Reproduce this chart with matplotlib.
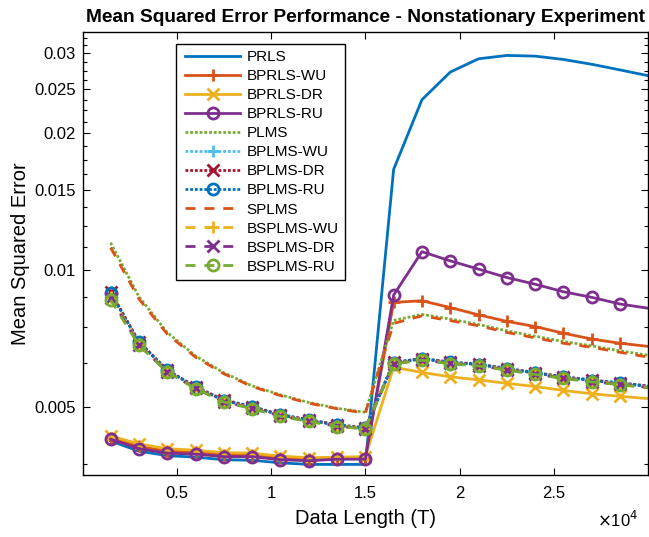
import matplotlib
matplotlib.use("Agg")
import matplotlib.pyplot as plt
from matplotlib.lines import Line2D
from matplotlib.legend_handler import HandlerLine2D
from matplotlib.ticker import FixedLocator, FuncFormatter, NullLocator

plt.rcParams['font.family'] = ['Liberation Sans', 'DejaVu Sans']

# 데이터 길이 (T)
T = [1500, 3000, 4500, 6000, 7500, 9000, 10500, 12000, 13500, 15000,
     16500, 18000, 19500, 21000, 22500, 24000, 25500, 27000, 28500, 30000]

prls = [0.00421, 0.00400, 0.00391, 0.00388, 0.00383, 0.00382, 0.00377, 0.00374, 0.00374, 0.00374,
        0.01667, 0.02373, 0.0273, 0.0292, 0.0297, 0.0296, 0.0291, 0.0284, 0.0276, 0.0268]
bprls_wu = [0.00428, 0.00410, 0.00400, 0.00398, 0.00393, 0.00392, 0.00386, 0.00384, 0.00386, 0.00387,
            0.0085, 0.00857, 0.00828, 0.00798, 0.00772, 0.00752, 0.00727, 0.00706, 0.00691, 0.0068]
bprls_dr = [0.00432, 0.00415, 0.00405, 0.00402, 0.00397, 0.00396, 0.00390, 0.00387, 0.00388, 0.00389,
            0.00612, 0.00596, 0.00583, 0.00574, 0.00564, 0.00555, 0.00544, 0.00535, 0.00528, 0.00522]
bprls_ru = [0.00425, 0.00405, 0.00396, 0.00394, 0.00389, 0.00389, 0.00383, 0.00381, 0.00384, 0.00384,
            0.00882, 0.01099, 0.01049, 0.01006, 0.00964, 0.00932, 0.00897, 0.00872, 0.00843, 0.00825]
plms = [0.0115, 0.00875, 0.0073, 0.00648, 0.00595, 0.00557, 0.00532, 0.00512, 0.00497, 0.00487,
        0.00776, 0.00800, 0.00781, 0.00760, 0.00736, 0.00716, 0.00697, 0.00682, 0.00665, 0.00650]
bplms_wu = [0.00895, 0.00697, 0.00604, 0.00555, 0.00519, 0.00502, 0.00482, 0.00469, 0.00458, 0.00451,
            0.00628, 0.0064, 0.00629, 0.00622, 0.00609, 0.00596, 0.00584, 0.00574, 0.00566, 0.00557]
bplms_dr = [0.00897, 0.00696, 0.00603, 0.00554, 0.00518, 0.00501, 0.00481, 0.00469, 0.00457, 0.0045,
            0.00627, 0.00639, 0.00628, 0.00621, 0.00608, 0.00595, 0.00583, 0.00573, 0.00565, 0.00556]
bplms_ru = [0.00892, 0.00694, 0.00602, 0.00553, 0.00517, 0.005, 0.0048, 0.00468, 0.00456, 0.00449,
            0.00626, 0.00638, 0.00627, 0.0062, 0.00607, 0.00594, 0.00582, 0.00572, 0.00564, 0.00555]
splms = [0.01122, 0.00865, 0.00724, 0.00644, 0.00592, 0.00555, 0.0053, 0.0051, 0.00496, 0.00485,
         0.00764, 0.00794, 0.00775, 0.00755, 0.0073, 0.0071, 0.00691, 0.00677, 0.0066, 0.00644]
bsplms_wu = [0.00875, 0.00688, 0.00599, 0.00551, 0.00515, 0.00498, 0.00479, 0.00467, 0.00455, 0.00449,
             0.00624, 0.00636, 0.00625, 0.00618, 0.00605, 0.00592, 0.0058, 0.0057, 0.00562, 0.00553]
bsplms_dr = [0.0087, 0.00686, 0.00598, 0.0055, 0.00514, 0.00497, 0.00478, 0.00466, 0.00454, 0.00448,
             0.00623, 0.00635, 0.00624, 0.00617, 0.00604, 0.00591, 0.00579, 0.00569, 0.00561, 0.00552]
bsplms_ru = [0.00861, 0.00684, 0.00597, 0.00549, 0.00513, 0.00496, 0.00477, 0.00465, 0.00453, 0.00448,
             0.00622, 0.00634, 0.00623, 0.00616, 0.00603, 0.0059, 0.00578, 0.00568, 0.0056, 0.00551]

y_major = [0.005, 0.01, 0.015, 0.02, 0.025, 0.03]
y_minor = [0.00375, 0.00625, 0.0075, 0.00875, 0.01125, 0.0125, 0.01375, 0.01625, 0.0175, 0.01875,
           0.02125, 0.0225, 0.02375, 0.02625, 0.0275, 0.02875, 0.03125, 0.0325]
x_major = [5000, 10000, 15000, 20000, 25000]

파랑 = '#0072BD'
주황 = '#D95319'
노랑 = '#EDB120'
보라 = '#7E2F8E'
초록 = '#77AC30'
하늘 = '#4DBEEE'
빨강 = '#A2142F'

점선 = (0, (1, 0.7))
파선 = (0, (3.6, 3.2))

series = [
    ('PRLS', prls, 파랑, '-', None),
    ('BPRLS-WU', bprls_wu, 주황, '-', '+'),
    ('BPRLS-DR', bprls_dr, 노랑, '-', 'x'),
    ('BPRLS-RU', bprls_ru, 보라, '-', 'o'),
    ('PLMS', plms, 초록, 점선, None),
    ('BPLMS-WU', bplms_wu, 하늘, 점선, '+'),
    ('BPLMS-DR', bplms_dr, 빨강, 점선, 'x'),
    ('BPLMS-RU', bplms_ru, 파랑, 점선, 'o'),
    ('SPLMS', splms, 주황, 파선, None),
    ('BSPLMS-WU', bsplms_wu, 노랑, 파선, '+'),
    ('BSPLMS-DR', bsplms_dr, 보라, 파선, 'x'),
    ('BSPLMS-RU', bsplms_ru, 초록, 파선, 'o'),
]

fig = plt.figure(figsize=(6.49, 5.37), dpi=100)
ax = fig.add_axes([0.1274, 0.116, 0.8716, 0.825])

for name, y, c, ls, mk in series:
    ax.plot(T, y, color=c, linestyle=ls, linewidth=2.0, marker=mk, markersize=8,
            markeredgewidth=2.0, markerfacecolor='none', markevery=slice(0, len(T) - 1),
            label=name)

ax.set_yscale('log')
ax.set_xlim(20, 30000)
ax.set_ylim(0.00355, 0.0335)
ax.yaxis.set_major_locator(FixedLocator(y_major))
ax.yaxis.set_minor_locator(FixedLocator(y_minor))
ax.yaxis.set_major_formatter(FuncFormatter(lambda v, p: '%g' % v))
ax.yaxis.set_minor_formatter(FuncFormatter(lambda v, p: ''))
ax.xaxis.set_major_locator(FixedLocator(x_major))
ax.xaxis.set_minor_locator(NullLocator())
ax.xaxis.set_major_formatter(FuncFormatter(lambda v, p: '%g' % (v / 1e4)))

ax.tick_params(which='both', direction='in', top=True, right=True, labelsize=12, width=0.8)
ax.tick_params(axis='x', pad=8)
ax.tick_params(axis='y', pad=5)
ax.tick_params(which='major', length=5)
ax.tick_params(which='minor', length=3)
for s in ax.spines.values():
    s.set_linewidth(1.0)

ax.set_title('Mean Squared Error Performance - Nonstationary Experiment',
             fontsize=13.8, fontweight='bold', pad=7)
ax.set_xlabel('Data Length (T)', fontsize=14.5, labelpad=6)
ax.set_ylabel('Mean Squared Error', fontsize=14.5, labelpad=3)
ax.text(0.982, -0.102, '$\\times$10$^4$', transform=ax.transAxes, ha='right', va='center', fontsize=12)

leg = ax.legend(loc='upper left', bbox_to_anchor=(0.165, 0.972), borderaxespad=0,
                fontsize=11, handlelength=3.8, handletextpad=0.4, labelspacing=0.33,
                numpoints=1, fancybox=False, framealpha=1, edgecolor='black',
                borderpad=0.4, handler_map={Line2D: HandlerLine2D(xpad=0.2)})
leg.get_frame().set_linewidth(1.0)

plt.savefig('out.png', dpi=100)
